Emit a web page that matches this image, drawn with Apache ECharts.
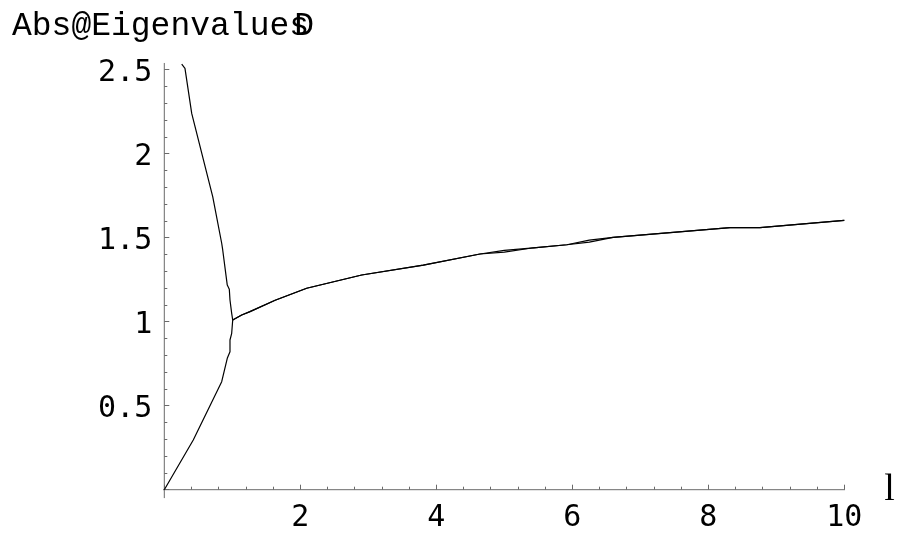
<!DOCTYPE html>
<html>
<head>
<meta charset="utf-8">
<script src="https://cdn.jsdelivr.net/npm/echarts@6/dist/echarts.min.js"></script>
<style>
html,body{margin:0;padding:0;background:#fff;}
#chart{width:902px;height:537px;}
</style>
</head>
<body>
<div id="chart"></div>
<script>
// Data
var upperBranch = [[0.256,2.533],[0.304,2.508],[0.403,2.24],[0.712,1.744],[0.844,1.467],[0.859,1.427],[0.926,1.218],[0.956,1.193],[0.966,1.129],[0.991,1.05],[1.006,1.01]];
var lowerBranch = [[0,0],[0.426,0.296],[0.844,0.643],[0.926,0.782],[0.966,0.821],[0.966,0.891],[0.991,0.931],[1.006,1.01]];
var rightBranchA = [[1.006,1.01],[1.138,1.04],[1.26,1.06],[1.63,1.128],[2.094,1.199],[2.903,1.278],[3.809,1.337],[4.643,1.403],[5.0,1.414],[5.43,1.44],[5.92,1.458],[6.25,1.474],[6.60,1.502],[8.32,1.56],[8.76,1.56],[10.0,1.603]];
var rightBranchB = [[1.006,1.01],[1.138,1.04],[1.26,1.06],[1.63,1.128],[2.094,1.199],[2.903,1.278],[3.809,1.337],[4.643,1.403],[5.0,1.424],[5.43,1.44],[5.92,1.458],[6.25,1.486],[6.60,1.502],[8.32,1.56],[8.76,1.56],[10.0,1.603]];
var xAxisLineExtent = [[-0.26,0],[10.27,0]];
var yAxisLineExtent = [[0,-0.05],[0,2.54]];
var titleText = 'Abs@Eigenvalues';
var titleOverlap = 'D';
var xName = 'l';

var chart = echarts.init(document.getElementById('chart'), null, {renderer:'canvas'});
var axisGray = '#6a6a6a';
var curveStyle = {color:'#000', width:1.2};
function curve(d){
  return {type:'line', data:d, showSymbol:false, symbol:'none', clip:false, silent:true,
    lineStyle:curveStyle, itemStyle:{color:'#000'}, z:3};
}
function axisLineSeries(d){
  return {type:'line', data:d, showSymbol:false, symbol:'none', clip:false, silent:true,
    lineStyle:{color:axisGray, width:1}, z:2};
}
chart.setOption({
  animation:false,
  backgroundColor:'#fff',
  grid:{left:164.3, right:57.7, top:69.7, bottom:47.3, containLabel:false},
  xAxis:{
    type:'value', min:0, max:10, interval:2,
    name:xName, nameLocation:'end', nameGap:40,
    nameTextStyle:{fontFamily:'Liberation Serif', fontSize:38, color:'#000', verticalAlign:'middle'},
    axisLine:{show:false},
    axisTick:{show:true, inside:true, length:5, lineStyle:{color:axisGray}},
    minorTick:{show:true, splitNumber:5, length:3, lineStyle:{color:axisGray}},
    axisLabel:{showMinLabel:false, margin:14, fontFamily:'DejaVu Sans Mono', fontSize:30, color:'#000',
      formatter:function(v){return v===0?'':String(v);}},
    splitLine:{show:false}
  },
  yAxis:{
    type:'value', min:0, max:2.5, interval:0.5,
    axisLine:{show:false},
    axisTick:{show:true, inside:true, length:5, lineStyle:{color:axisGray}},
    minorTick:{show:true, splitNumber:5, length:3, lineStyle:{color:axisGray}},
    axisLabel:{showMinLabel:false, margin:12, fontFamily:'DejaVu Sans Mono', fontSize:30, color:'#000',
      verticalAlign:'top', lineHeight:8,
      formatter:function(v){return v===0?'':String(v);}},
    splitLine:{show:false}
  },
  graphic:[
    {type:'text', left:12, top:10, style:{text:titleText, fontFamily:'Liberation Mono', fontSize:33, fill:'#000'}},
    {type:'text', left:12+14*19.8+5, top:10, style:{text:titleOverlap, fontFamily:'Liberation Mono', fontSize:33, fill:'#000'}}
  ],
  series:[
    axisLineSeries(xAxisLineExtent),
    axisLineSeries(yAxisLineExtent),
    curve(upperBranch),
    curve(lowerBranch),
    curve(rightBranchA),
    curve(rightBranchB)
  ]
});
</script>
</body>
</html>
